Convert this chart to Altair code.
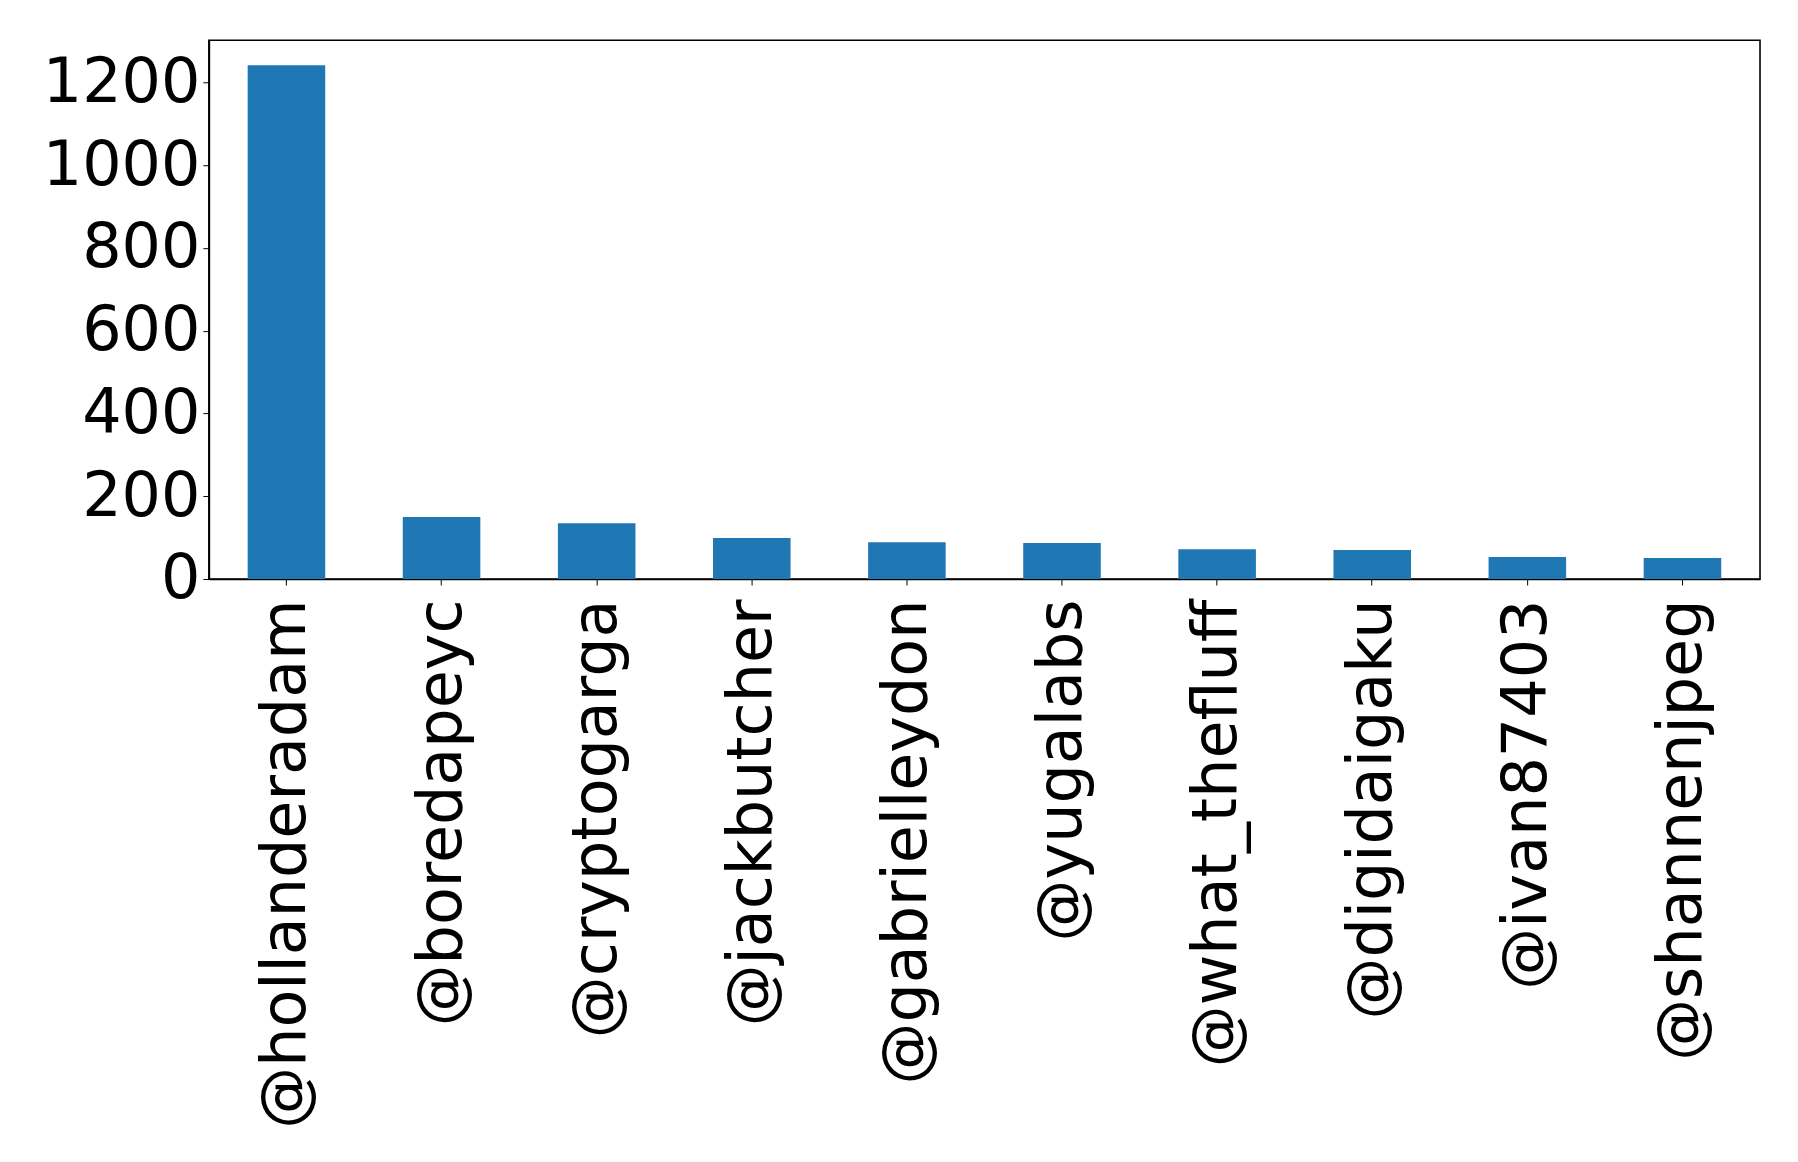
import altair as alt
import pandas as pd

accounts = ["@hollanderadam", "@boredapeyc", "@cryptogarga", "@jackbutcher",
            "@gabrielleydon", "@yugalabs", "@what_thefluff", "@digidaigaku",
            "@ivan87403", "@shannenjpeg"]
counts = [1242, 150, 135, 99, 89, 87, 72, 70, 53, 51]
y_ticks = [0, 200, 400, 600, 800, 1000, 1200]

df = pd.DataFrame({"account": accounts, "count": counts})

chart = alt.Chart(df).mark_bar(color="#1f77b4").encode(
    x=alt.X("account:N", sort=accounts, title=None,
            scale=alt.Scale(paddingInner=0.5, paddingOuter=0.25),
            axis=alt.Axis(labelAngle=270, labelFontSize=62, labelFont="DejaVu Sans",
                          labelColor="black", tickColor="black", tickSize=6,
                          labelPadding=14, domainColor="black", domainWidth=1.6,
                          labelLimit=2000)),
    y=alt.Y("count:Q", title=None,
            scale=alt.Scale(domain=[0, 1302], nice=False, zero=True),
            axis=alt.Axis(values=y_ticks, format="d", labelFontSize=62,
                          labelFont="DejaVu Sans",
                          labelColor="black", tickColor="black", tickSize=6,
                          labelPadding=3, grid=False, domainColor="black",
                          domainWidth=1.6)),
).properties(
    width=1552, height=539,
    background="white",
    autosize=alt.AutoSizeParams(type="none"),
    padding={"left": 201, "top": 32, "right": 30, "bottom": 575},
).configure_view(stroke="black", strokeWidth=1.6)

chart.save("out.html", embed_options={"renderer": "svg", "actions": False})
